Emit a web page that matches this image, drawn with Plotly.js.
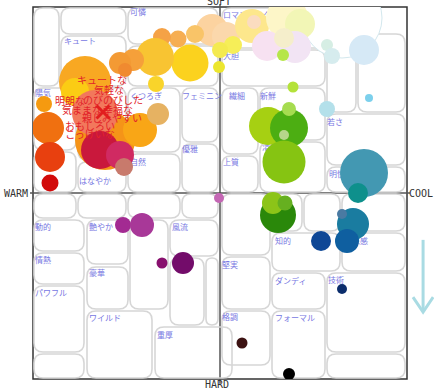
<!DOCTYPE html>
<html><head><meta charset="utf-8">
<script src="https://cdn.plot.ly/plotly-3.0.1.min.js"></script>
<style>html,body{margin:0;padding:0;background:#fff;}#chart{width:434px;height:390px;}</style>
</head><body><div id="chart"></div>
<script>
// ---- data (image-scale coordinates: x = warm(-) .. cool(+), y = hard(-) .. soft(+)) ----
const haloX = [122];
const haloY = [175];
const haloSize = [80];

const bubbleX = [-8, 6, 32, 67, 80, 47, 75, 64, 34, 13, 0, 63,
  -25, -42, -58, -30, -65, -87, -100, -95, -64, -1,
  -135, -145, -115, -125, -80, -62, -120, -100, -96,
  -176, -172, -170, -170,
  107, 112, 144, 73, 107, 149,
  48, 69, 69, 64, 64, 58, 53, 65,
  144, 138, 133, 122, 127, 101, 122,
  -1, -97, -78, -58, -37,
  22, 69];
const bubbleY = [163, 157, 167, 175, 169, 147, 146, 155, 171, 148, 143, 138,
  159, 154, 156, 130, 136, 133, 130, 123, 109, 126,
  111, 101, 53, 80, 63, 79, 43, 38, 26,
  89, 65, 36, 10,
  148, 137, 143, 106, 84, 95,
  67, 65, 84, 58, 31, -22, -10, -10,
  20, 0, -31, -21, -48, -48, -96,
  -5, -32, -32, -70, -70,
  -150, -181];
const bubbleSize = [32, 28, 34, 42, 30, 30, 32, 20, 14, 18, 16, 12,
  18, 17, 18, 37, 38, 22, 22, 14, 16, 12,
  52, 28, 60, 46, 34, 22, 38, 28, 18,
  16, 32, 30, 17,
  12, 16, 30, 11, 16, 8,
  38, 38, 14, 10, 43, 36, 22, 15,
  48, 20, 32, 10, 24, 20, 10,
  10, 16, 24, 11, 22,
  11, 12];
const bubbleColor = ['#fcd3a0', '#fbd8ac', '#fde78c', '#fdf6c8', '#f2f6b6', '#f7e1f1', '#f2e4f4', '#f5eecb', '#fbdcc0', '#f6ee58', '#f4ea50', '#b6e64a',
  '#f9c468', '#f6ae52', '#f5a246', '#fbd21e', '#f8c432', '#f5a03a', '#f39a34', '#f08a30', '#f9d42a', '#ece62e',
  '#f8a822', '#fbcc14', '#f59418', '#f2785c', '#f9a616', '#e6b262', '#c9183c', '#d02a62', '#c87a6c',
  '#f59a10', '#f07010', '#e8400f', '#d20a0a',
  '#d6eee4', '#d6ecee', '#d6e9f6', '#b4e23a', '#b4e0ea', '#7cd0ec',
  '#a6d012', '#4cae12', '#a6dc50', '#b6d68a', '#86c412', '#2a880a', '#8cc418', '#66b020',
  '#4398b2', '#0e908c', '#1a7ca0', '#4a7aa2', '#0f5fa0', '#0e4796', '#0b2d6c',
  '#c466b4', '#a32a92', '#a83898', '#88106e', '#730c6a',
  '#3c1212', '#000000'];

// word labels of the image scale (blue), positioned at their region
const wordText = ['可憐', 'キュート', '陽気', 'くつろぎ', 'フェミニン', '優雅', '自然', 'はなやか',
  'ロマンチック', '大胆', '繊細', '新鮮', '若さ', '上質', '明快', '清楚',
  '動的', '艶やか', '風流', '情熱', '豪華', 'パワフル', 'ワイルド', '重厚',
  '知的', '清涼感', '堅実', 'ダンディ', '技術', '格調', 'フォーマル'];
const wordX = [-90, -156, -185, -90, -38, -38, -90, -141,
  3, 3, 9, 40, 107, 3, 109, 42,
  -185, -131, -48, -185, -131, -185, -131, -63,
  55, 124, 2, 55, 108, 2, 55];
const wordY = [180, 151, 99, 96, 96, 43, 30, 11,
  177, 136, 96, 96, 70, 30, 18, 45,
  -35, -35, -35, -68, -81, -101, -126, -143,
  -49, -49, -73, -89, -88, -125, -126];

// red keyword labels of the evaluated item
const keyText = ['キュートな', '気軽な', '明朗な', 'のびのびした', '気ままな', '幸福な', '親しみやすい', 'おもしろい', 'こっけいな'];
const keyX = [-118, -111, -150, -107, -138, -102, -108, -130, -130];
const keyY = [112, 102, 91, 92, 82, 82, 74, 66, 58];
const centerX = [-117];
const centerY = [81];

// region grid of the scale [x0, x1, yTop, yBottom]
const regions = [
  [-159,-94,157,107],[-92,-2,185,149],[-92,-2,147,107],[-186,-144,105,43],[-142,-94,105,33],
  [-92,-40,105,41],[-38,-2,105,51],[-38,-2,49,1],[-92,-40,39,1],[-142,-94,31,1],[-186,-144,41,1],
  [-186,-161,185,107],[-159,-94,185,159],
  [2,105,185,145],[2,105,143,107],[107,136,143,81],[138,185,159,81],[2,38,105,39],[40,105,105,53],
  [40,105,51,1],[107,185,79,28],[2,38,37,1],[107,185,26,1],
  [-186,-144,-1,-25],[-142,-94,-1,-25],[-92,-40,-1,-25],[-38,-2,-1,-25],
  [-186,-136,-27,-58],[-186,-136,-60,-91],[-186,-136,-93,-159],[-186,-136,-161,-185],
  [-133,-92,-27,-71],[-133,-92,-74,-116],[-90,-52,-27,-116],[-50,-2,-27,-63],[-50,-16,-65,-132],
  [-14,-2,-65,-132],[-133,-68,-118,-185],[-65,12,-134,-185],
  [2,50,-1,-62],[52,82,-1,-38],[84,120,-1,-38],[122,185,-1,-38],[52,120,-40,-78],[122,185,-40,-78],
  [2,50,-64,-116],[52,105,-80,-116],[107,185,-80,-159],[2,50,-118,-172],[52,105,-118,-185],[107,185,-161,-185]
];

function roundRect(c) {
  const x0 = c[0], x1 = c[1], yt = c[2], yb = c[3];
  const r = Math.min(9, (x1 - x0) / 2, (yt - yb) / 2);
  return `M ${x0 + r},${yt} L ${x1 - r},${yt} Q ${x1},${yt} ${x1},${yt - r} L ${x1},${yb + r} Q ${x1},${yb} ${x1 - r},${yb} ` +
    `L ${x0 + r},${yb} Q ${x0},${yb} ${x0},${yb + r} L ${x0},${yt - r} Q ${x0},${yt} ${x0 + r},${yt} Z`;
}

const shapes = regions.map(c => ({
  type: 'path', xref: 'x', yref: 'y', path: roundRect(c), layer: 'below',
  line: {color: '#d6d6d6', width: 1.6}
}));
// frame and the two scale axes
shapes.push({type: 'rect', xref: 'paper', yref: 'paper', x0: 0, x1: 1, y0: 0, y1: 1, layer: 'below', line: {color: '#333', width: 1.5}});
shapes.push({type: 'line', xref: 'paper', yref: 'paper', x0: 0.5, x1: 0.5, y0: -0.013, y1: 1.008, layer: 'below', line: {color: '#555', width: 1.5}});
shapes.push({type: 'line', xref: 'paper', yref: 'paper', x0: -0.008, x1: 1.008, y0: 0.5, y1: 0.5, layer: 'below', line: {color: '#555', width: 1.5}});
// direction arrow
shapes.push({type: 'line', xref: 'paper', yref: 'paper', x0: 1.043, x1: 1.043, y0: 0.374, y1: 0.182, line: {color: '#a9dbe3', width: 3}});
shapes.push({type: 'path', xref: 'paper', yref: 'paper', path: 'M 1.016,0.220 L 1.043,0.180 L 1.070,0.220', line: {color: '#a9dbe3', width: 3}});

const traces = [
  {type: 'scatter', mode: 'text', x: wordX, y: wordY, text: wordText, textposition: 'middle right',
   textfont: {family: 'Noto Sans CJK JP', size: 8, color: '#7777e2'}, hoverinfo: 'skip'},
  {type: 'scatter', mode: 'markers', x: haloX, y: haloY,
   marker: {size: haloSize, sizemode: 'diameter', color: '#ffffff', opacity: 1, line: {color: '#d3e8ee', width: 1}}, hoverinfo: 'skip'},
  {type: 'scatter', mode: 'markers', x: bubbleX, y: bubbleY,
   marker: {size: bubbleSize, sizemode: 'diameter', color: bubbleColor, opacity: 1, line: {width: 0}}, hoverinfo: 'skip'},
  {type: 'scatter', mode: 'text', x: keyX, y: keyY, text: keyText, textposition: 'middle center',
   textfont: {family: 'Noto Sans CJK JP', size: 10, color: '#e2232a'}, hoverinfo: 'skip'},
  {type: 'scatter', mode: 'markers', x: centerX, y: centerY,
   marker: {symbol: 'x-thin', size: 13, color: '#e21e1e', line: {color: '#e21e1e', width: 3}}, hoverinfo: 'skip'}
];

const axisFont = {family: 'DejaVu Sans Mono', size: 10, color: '#333'};
const layout = {
  width: 434, height: 390,
  margin: {l: 33, r: 27, t: 7, b: 11},
  paper_bgcolor: '#ffffff', plot_bgcolor: 'rgba(0,0,0,0)',
  showlegend: false, hovermode: false,
  xaxis: {range: [-187, 187], showgrid: false, zeroline: false, showticklabels: false, showline: false, ticks: '', fixedrange: true},
  yaxis: {range: [-186, 186], showgrid: false, zeroline: false, showticklabels: false, showline: false, ticks: '', fixedrange: true},
  shapes: shapes,
  annotations: [
    {xref: 'paper', yref: 'paper', x: 0.497, y: 1.016, text: 'SOFT', showarrow: false, font: axisFont, xanchor: 'center', yanchor: 'middle'},
    {xref: 'paper', yref: 'paper', x: 0.492, y: -0.016, text: 'HARD', showarrow: false, font: axisFont, xanchor: 'center', yanchor: 'middle'},
    {xref: 'paper', yref: 'paper', x: -0.045, y: 0.5, text: 'WARM', showarrow: false, font: axisFont, xanchor: 'center', yanchor: 'middle'},
    {xref: 'paper', yref: 'paper', x: 1.037, y: 0.5, text: 'COOL', showarrow: false, font: axisFont, xanchor: 'center', yanchor: 'middle'}
  ]
};

Plotly.newPlot('chart', traces, layout, {displayModeBar: false, staticPlot: true});
</script>
</body></html>
